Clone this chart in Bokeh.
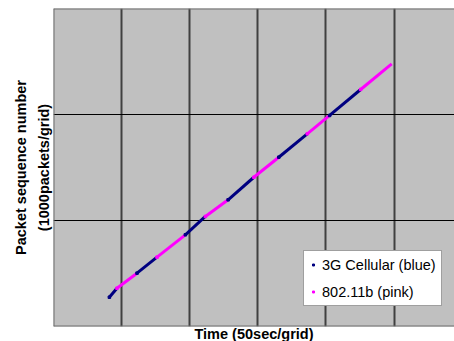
from bokeh.plotting import figure
from bokeh.models import ColumnDataSource, FixedTicker, Span, Legend, LegendItem, Title
from bokeh.embed import file_html
from bokeh.resources import INLINE

# Segment boundaries (time in seconds, packets)
seg_t0 = [41.0, 46.6, 61.3, 76.0, 96.8, 111.5, 128.2, 147.1, 165.4, 186.3, 202.7, 225.5]
seg_t1 = [46.6, 61.3, 76.0, 96.8, 111.5, 128.2, 147.1, 165.4, 186.3, 202.7, 225.5, 248.3]
seg_p0 = [276, 361, 503, 654, 865, 1038, 1195, 1408, 1597, 1818, 1991, 2236]
seg_p1 = [361, 503, 654, 865, 1038, 1195, 1408, 1597, 1818, 1991, 2236, 2478]
seg_net = ["3G", "wifi", "3G", "wifi", "3G", "wifi", "3G", "wifi", "3G", "wifi", "3G", "wifi"]

x_grid = [50, 100, 150, 200, 250]
y_grid = [1000, 2000]

x_title = "Time (50sec/grid)"
y_title = "Packet sequence number\n(1000packets/grid)"
legend_labels = ["3G Cellular (blue)", "802.11b (pink)"]

BLUE = "#000080"
PINK = "#ff00ff"
FONT = "Liberation Sans"


def pick(net):
    idx = [i for i, n in enumerate(seg_net) if n == net]
    return dict(x0=[seg_t0[i] for i in idx], x1=[seg_t1[i] for i in idx],
                y0=[seg_p0[i] for i in idx], y1=[seg_p1[i] for i in idx])


p = figure(width=454, height=341, x_range=(0, 294.4), y_range=(0, 3000),
           output_backend="svg", toolbar_location=None, title=None,
           x_axis_location=None, y_axis_location="left",
           min_border_left=53, min_border_right=0, min_border_top=8, min_border_bottom=15,
           background_fill_color="#c0c0c0", border_fill_color="white",
           outline_line_color=None)

ax = p.yaxis[0]
ax.ticker = FixedTicker(ticks=[])
ax.major_label_text_font_size = "0px"
ax.major_tick_line_color = None
ax.minor_tick_line_color = None
ax.major_tick_out = 0
ax.major_tick_in = 0
ax.major_label_standoff = 0
ax.axis_line_color = None
ax.axis_label = y_title
ax.axis_label_standoff = 2
ax.axis_label_text_font = FONT
ax.axis_label_text_font_style = "bold"
ax.axis_label_text_font_size = "14.5px"
ax.axis_label_text_color = "black"
ax.axis_label_text_line_height = 1.38

p.add_layout(Title(text=x_title, align="center", vertical_align="middle", offset=4, standoff=-3,
                   text_font=FONT, text_font_style="bold", text_font_size="14.5px",
                   text_color="black", text_line_height=1.0), "below")

p.xgrid.ticker = FixedTicker(ticks=x_grid)
p.xgrid.grid_line_color = "#404040"
p.xgrid.grid_line_width = 2
p.ygrid.ticker = FixedTicker(ticks=y_grid)
p.ygrid.grid_line_color = "black"
p.ygrid.grid_line_width = 1.2

for loc, dim in ((0, "height"), (0, "width"), (3000, "width")):
    p.add_layout(Span(location=loc, dimension=dim, line_color="#6e6e6e", line_width=2))

bsrc = ColumnDataSource(pick("3G"))
psrc = ColumnDataSource(pick("wifi"))
p.segment(x0="x0", y0="y0", x1="x1", y1="y1", source=bsrc, line_color=BLUE, line_width=3)
p.segment(x0="x0", y0="y0", x1="x1", y1="y1", source=psrc, line_color=PINK, line_width=3)
sb = p.scatter(x="x0", y="y0", source=bsrc, marker="square", size=2.5, color=BLUE)
sp = p.scatter(x="x0", y="y0", source=psrc, marker="square", size=2.5, color=PINK)

legend = Legend(items=[LegendItem(label=legend_labels[0], renderers=[sb]),
                       LegendItem(label=legend_labels[1], renderers=[sp])],
                location=(250, 20), margin=0, padding=5, spacing=10,
                glyph_width=8, glyph_height=5, label_standoff=5, label_height=17,
                label_text_font=FONT, label_text_font_size="14.5px",
                label_text_color="black",
                border_line_color="#404040", border_line_width=1.5,
                background_fill_color="white", background_fill_alpha=1.0)
p.add_layout(legend)

open("out.html", "w").write(file_html(p, INLINE))
